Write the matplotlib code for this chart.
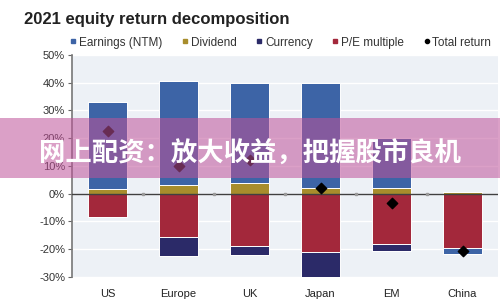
import matplotlib
matplotlib.use('Agg')
import matplotlib.pyplot as plt
import numpy as np
from matplotlib.patches import Rectangle
from matplotlib.lines import Line2D

plt.rcParams['font.family'] = ['Liberation Sans', 'DejaVu Sans']

# 数据 (%)
regions = ['US', 'Europe', 'UK', 'Japan', 'EM', 'China']
earnings = [31.5, 37.5, 36.0, 38.0, 18.0, -2.2]
dividend = [1.5, 3.0, 4.0, 2.0, 2.0, 0.5]
currency = [0.0, -7.0, -3.0, -9.0, -2.6, 0.0]
pe_multiple = [-8.3, -15.6, -19.0, -21.0, -18.0, -19.5]
total_return = [22.7, 10.0, 12.0, 2.0, -3.2, -20.6]
yticks = [-30, -20, -10, 0, 10, 20, 30, 40, 50]

colors = {
    'Earnings (NTM)': '#3d64a6',
    'Dividend': '#a88d2c',
    'Currency': '#2b2a68',
    'P/E multiple': '#a3283b',
}
series = {
    'Earnings (NTM)': earnings,
    'Dividend': dividend,
    'Currency': currency,
    'P/E multiple': pe_multiple,
}
pos_order = ['Dividend', 'Earnings (NTM)', 'Currency', 'P/E multiple']
neg_order = ['P/E multiple', 'Currency', 'Earnings (NTM)', 'Dividend']

fig = plt.figure(figsize=(5, 3), dpi=100)
ax = fig.add_axes([0.144, 0.077, 0.852, 0.74])
ax.set_facecolor('#edf1f6')

x = np.arange(len(regions))
w = 0.55
pos_bottom = np.zeros(len(regions))
neg_bottom = np.zeros(len(regions))
for name in pos_order:
    v = np.array(series[name])
    h = np.where(v > 0, v, 0)
    ax.bar(x, h, w, bottom=pos_bottom, color=colors[name], edgecolor='white', linewidth=0.7, zorder=2)
    pos_bottom += h
for name in neg_order:
    v = np.array(series[name])
    h = np.where(v < 0, v, 0)
    ax.bar(x, h, w, bottom=neg_bottom, color=colors[name], edgecolor='white', linewidth=0.7, zorder=2)
    neg_bottom += h

ax.scatter(x, total_return, marker='D', s=28, color='black', zorder=4)
ax.axhline(0, color='#404040', linewidth=1.0, zorder=3)
ax.plot(x[:-1] + 0.5, np.zeros(len(x) - 1), 's', ms=1.5, color='#9a9a9a', zorder=3)

ax.set_xlim(-0.5, len(regions) - 0.5)
ax.set_ylim(-30, 50)
ax.set_yticks(yticks)
ax.set_yticklabels([f'{t}%' for t in yticks], fontsize=8, color='#333333')
ax.yaxis.grid(True, color='white', linewidth=1.0, zorder=0)
ax.set_axisbelow(True)
ax.set_xticks(x)
ax.set_xticklabels(regions, fontsize=8, color='#222222')
ax.tick_params(axis='x', length=0, pad=9)
ax.tick_params(axis='y', direction='out', length=3, color='#666666', pad=2)
for s in ['top', 'right', 'bottom']:
    ax.spines[s].set_visible(False)
ax.spines['left'].set_color('#777777')
ax.spines['left'].set_linewidth(1.2)

fig.text(0.048, 0.935, '2021 equity return decomposition', fontsize=12, fontweight='bold',
         color='#222222', va='center')

handles = [Line2D([], [], marker='s', ls='', ms=3, color=colors[n]) for n in colors]
handles.append(Line2D([], [], marker='o', ls='', ms=3, color='black'))
labels = list(colors) + ['Total return']
fig.legend(handles, labels, loc='center', bbox_to_anchor=(0.56, 0.858), ncol=5, fontsize=8.5,
           frameon=False, handletextpad=0.1, columnspacing=1.5, handlelength=0.8,
           labelcolor='#333333')

# 水印横幅
fig.patches.append(Rectangle((0, 0.407), 1, 0.2, transform=fig.transFigure,
                             facecolor=(0.75, 0.32, 0.6), linewidth=0, alpha=0.55, zorder=10))
fig.text(0.5, 0.485, '网上配资：放大收益，把握股市良机', fontsize=19, fontweight='bold',
         color='white', ha='center', va='center', family=['Noto Sans CJK SC'], zorder=11)

fig.savefig('out.png', dpi=100)
